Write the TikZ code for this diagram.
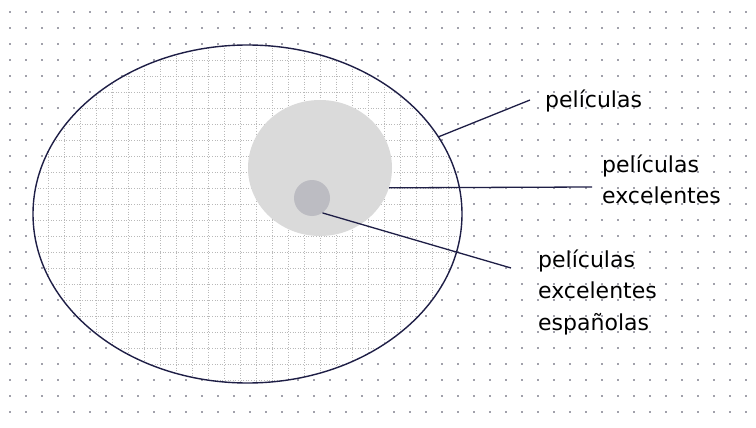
\documentclass[tikz,border=0pt]{standalone}
\usepackage{fontspec}
\setmainfont{DejaVu Sans}
\usetikzlibrary{shapes.geometric}
\definecolor{navy}{RGB}{30,30,70}
\definecolor{griddot}{RGB}{65,65,85}
\definecolor{innergrid}{RGB}{185,185,185}
\definecolor{midgray}{RGB}{218,218,218}
\definecolor{smallgray}{RGB}{188,188,194}
\begin{document}
\begin{tikzpicture}[x=1pt,y=-1pt,
  conn/.style={draw=navy, line width=1.3pt},
  lbl/.style={font=\fontsize{22}{31.5}\selectfont, align=left, anchor=base west, inner sep=0pt, text=black},
  gline/.style={draw=innergrid, line width=0.9pt, dash pattern=on 1pt off 1.6pt}]
\useasboundingbox (0,0) rectangle (756,428);
\fill[white] (0,0) rectangle (756,428);
% outer dot grid
\foreach \i in {0,...,46} \foreach \j in {0,...,25} \fill[griddot] (10+16*\i, 12+16*\j) circle (0.85);
% ellipse interior
\fill[white] (247.5,214) ellipse (214.5 and 169);
\begin{scope}
  \clip (247.5,214) ellipse (214.5 and 169);
  \foreach \i in {1,...,28} \draw[gline] (16*\i, 40) -- (16*\i, 390);
  \foreach \j in {2,...,23} \draw[gline] (30, 12+16*\j) -- (470, 12+16*\j);
\end{scope}
% inner sets
\node[ellipse, minimum width=144pt, minimum height=136pt, fill=midgray, inner sep=0pt] (mid) at (320,168) {};
\node[circle, minimum size=36pt, fill=smallgray, inner sep=0pt] (small) at (312,198) {};
% outline
\node[ellipse, minimum width=429pt, minimum height=338pt, draw=navy, line width=1.4pt, inner sep=0pt] (big) at (247.5,214) {};
% labels (anchored at the baseline of the last line)
\node[lbl] (l1) at (545,107) {películas};
\node[lbl] (l2) at (602,203.5) {películas\\excelentes};
\node[lbl] (l3) at (538,330) {películas\\excelentes\\españolas};
% connector ends
\coordinate (c1) at (530,100);
\coordinate (c2) at (592,187);
\coordinate (c3) at (511,268);
\draw[conn] (big.22.8) -- (c1);
\draw[conn] (mid.-16) -- (c2);
\draw[conn] (small.-55) -- (c3);
\end{tikzpicture}
\end{document}
